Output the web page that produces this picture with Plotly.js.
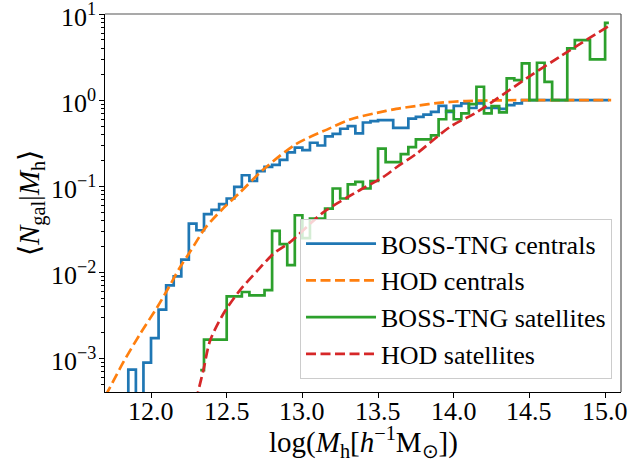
<!DOCTYPE html>
<html>
<head>
<meta charset="utf-8">
<script src="https://cdn.plot.ly/plotly-3.0.1.min.js"></script>
<style>html,body{margin:0;padding:0;background:#fff;}#chart{width:632px;height:468px;}</style>
</head>
<body>
<div id="chart"></div>
<script>
// Bin centres (bin width 0.05 dex) and measured occupations
const cenX = [11.825,11.875,11.925,11.975,12.025,12.075,12.125,12.175,12.225,12.275,12.325,12.375,12.425,12.475,12.525,12.575,12.625,12.675,12.725,12.775,12.825,12.875,12.925,12.975,13.025,13.075,13.125,13.175,13.225,13.275,13.325,13.375,13.425,13.475,13.525,13.575,13.625,13.675,13.725,13.775,13.825,13.875,13.925,13.975,14.025,14.075,14.125,14.175,14.225,14.275,14.325,14.375,14.425,14.475,14.525,14.575,14.625,14.675,14.725,14.775,14.825,14.875,14.925,14.975,15.025];
const cenY = [1e-6,7.4e-4,1e-6,8.9e-4,1.72e-3,3.68e-3,7.06e-3,8.98e-3,0.0140,0.0368,0.0308,0.0475,0.053,0.062,0.072,0.098,0.134,0.115,0.150,0.168,0.177,0.202,0.247,0.280,0.262,0.320,0.297,0.380,0.405,0.465,0.50,0.41,0.55,0.57,0.585,0.585,0.477,0.477,0.61,0.64,0.68,0.73,0.86,0.73,0.86,0.915,0.81,0.915,0.81,0.81,0.79,0.875,0.915,1.0,1.0,1.0,1.0,1.0,1.0,1.0,1.0,1.0,1.0,1.0,1.0];

const satX = [12.325,12.375,12.425,12.475,12.525,12.575,12.625,12.675,12.725,12.775,12.825,12.875,12.925,12.975,13.025,13.075,13.125,13.175,13.225,13.275,13.325,13.375,13.425,13.475,13.525,13.575,13.625,13.675,13.725,13.775,13.825,13.875,13.925,13.975,14.025,14.075,14.125,14.175,14.225,14.275,14.325,14.375,14.425,14.475,14.525,14.575,14.625,14.675,14.725,14.775,14.825,14.875,14.925,14.975,15.025];
const satY = [7.3e-4,1.65e-3,1.65e-3,1.65e-3,5.26e-3,5.26e-3,5.9e-3,5.4e-3,5.4e-3,6.2e-3,0.0303,0.0212,0.0121,0.046,0.025,0.042,0.042,0.055,0.094,0.072,0.105,0.112,0.094,0.115,0.274,0.19,0.19,0.236,0.285,0.35,0.35,0.39,0.60,0.75,0.60,0.70,0.90,1.43,0.70,0.85,0.72,1.79,1.71,2.67,1.0,2.72,1.63,1.0,1.0,3.99,4.99,4.99,2.97,2.97,7.9];

// HOD model curves
const hodCenX = [11.70,11.72,11.82,11.93,12.04,12.12,12.19,12.26,12.36,12.48,12.58,12.74,12.96,13.18,13.32,13.49,13.62,13.76,13.90,14.08,14.30,14.60,15.04];
const hodCenY = [3.7e-4,4.3e-4,9.2e-4,1.95e-3,3.9e-3,6.8e-3,0.0113,0.0175,0.033,0.056,0.082,0.155,0.31,0.47,0.60,0.71,0.79,0.86,0.93,0.975,0.995,1.0,1.0];

const hodSatX = [12.30,12.31,12.346,12.39,12.478,12.588,12.70,12.81,12.92,13.14,13.36,13.535,13.62,13.756,13.976,14.15,14.48,14.70,15.02];
const hodSatY = [3.2e-4,4.0e-4,7.3e-4,1.6e-3,3.3e-3,6.2e-3,0.0103,0.0165,0.0225,0.050,0.086,0.128,0.165,0.24,0.49,0.72,1.79,3.19,7.2];

const names = ['BOSS-TNG centrals','HOD centrals','BOSS-TNG satellites','HOD satellites'];
const xTicks = [12.0,12.5,13.0,13.5,14.0,14.5,15.0];
const xTickText = ['12.0','12.5','13.0','13.5','14.0','14.5','15.0'];
const yTicks = [1e-3,1e-2,1e-1,1e0,1e1];
const yTickText = ['10<sup>−3</sup>','10<sup>−2</sup>','10<sup>−1</sup>','10<sup>0</sup>','10<sup>1</sup>'];
const xTitle = 'log(<i>M</i><sub>h</sub>[<i>h</i><sup>−1</sup>M<sub>⊙</sub>])';
const yTitle = '⟨<i>N</i><sub>gal</sub>|<i>M</i><sub>h</sub>⟩';

const minorVals = [];
for (let e = -4; e <= 0; e++) for (let m = 2; m <= 9; m++) minorVals.push(m * Math.pow(10, e));

const serif = '"Liberation Serif", "Times New Roman", Times, serif';
const tickFont = {family: serif, size: 26, color: '#000'};
const traces = [
  {x: cenX, y: cenY, name: names[0], mode: 'lines', line: {color: '#1f77b4', width: 2.7, shape: 'hvh'}, legendgroup: 'a'},
  {x: hodCenX, y: hodCenY, name: names[1], mode: 'lines', line: {color: '#ff7f0e', width: 2.7, dash: '10px,4.5px', shape: 'spline', smoothing: 0.8}, legendgroup: 'b'},
  {x: satX, y: satY, name: names[2], mode: 'lines', line: {color: '#2ca02c', width: 2.7, shape: 'hvh'}, legendgroup: 'c'},
  {x: hodSatX, y: hodSatY, name: names[3], mode: 'lines', line: {color: '#d62728', width: 2.7, dash: '10px,4.5px', shape: 'spline', smoothing: 0.8}, legendgroup: 'd'}
];

// tick labels and axis titles as annotations placed through the axes
const annotations = [];
xTicks.forEach((v, i) => annotations.push({x: v, xref: 'x', y: 0, yref: 'paper', text: xTickText[i],
  showarrow: false, xanchor: 'center', yanchor: 'middle', yshift: -19, font: tickFont}));
yTicks.forEach((v, i) => annotations.push({x: 0, xref: 'paper', y: Math.log10(v), yref: 'y', text: yTickText[i],
  showarrow: false, xanchor: 'right', yanchor: 'middle', xshift: -7, yshift: -1, font: tickFont}));
annotations.push({x: 0.5, xref: 'paper', y: 0, yref: 'paper', text: xTitle, showarrow: false,
  xanchor: 'center', yanchor: 'middle', yshift: -50, font: {family: serif, size: 29, color: '#000'}});
annotations.push({x: 0, xref: 'paper', y: 0.5, yref: 'paper', text: yTitle, showarrow: false, textangle: -90,
  xanchor: 'center', yanchor: 'middle', xshift: -74, font: {family: serif, size: 29, color: '#000'}});

const layout = {
  width: 632, height: 468,
  margin: {l: 105, r: 11, t: 14, b: 76},
  paper_bgcolor: '#fff', plot_bgcolor: '#fff',
  font: {family: serif, size: 26, color: '#000'},
  showlegend: true,
  legend: {x: 0.9826, y: 0.034, xanchor: 'right', yanchor: 'bottom',
           bgcolor: 'rgba(255,255,255,0.8)', bordercolor: '#cccccc', borderwidth: 1,
           font: {family: serif, size: 26, color: '#000'}, tracegroupgap: 0, itemwidth: 70},
  xaxis: {range: [11.696, 15.105], tickvals: xTicks, showticklabels: false,
          ticks: 'outside', ticklen: 5, tickwidth: 1, tickcolor: '#000', showgrid: false, zeroline: false,
          showline: true, linecolor: '#000', linewidth: 1.2},
  yaxis: {type: 'log', range: [-3.391, 1.0008], tickvals: yTicks, showticklabels: false,
          ticks: 'outside', ticklen: 5, tickwidth: 1, tickcolor: '#000', showgrid: false, zeroline: false,
          showline: true, linecolor: '#000', linewidth: 1.2,
          minor: {tickvals: minorVals, ticks: 'outside', ticklen: 3, tickwidth: 0.8, tickcolor: '#000', showgrid: false}},
  annotations: annotations,
  shapes: [
    {type: 'line', xref: 'paper', yref: 'paper', x0: 0, x1: 1, y0: 1, y1: 1, line: {color: '#555', width: 1.2}},
    {type: 'line', xref: 'paper', yref: 'paper', x0: 1, x1: 1, y0: 0, y1: 1, line: {color: '#555', width: 1.2}}
  ]
};

Plotly.newPlot('chart', traces, layout, {displayModeBar: false});
</script>
</body>
</html>
